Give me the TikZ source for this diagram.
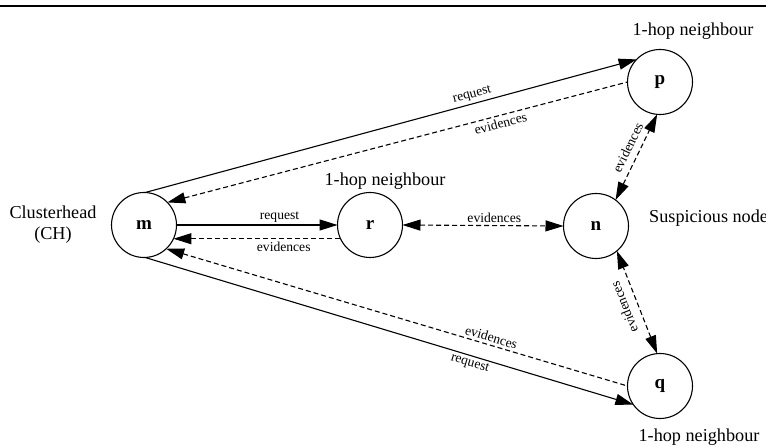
\documentclass[tikz,border=0pt]{standalone}
\usepackage{fontspec}
\setmainfont{Liberation Serif}
\usetikzlibrary{arrows.meta}

\tikzset{
  >={Triangle[length=18pt,width=11pt]},
  peer/.style={draw, circle, line width=1.1pt, minimum size=65pt, inner sep=0pt,
               outer sep=0pt, font=\fontsize{19}{21}\selectfont\bfseries},
  caption/.style={font=\fontsize{18.2}{21}\selectfont, inner sep=0pt},
  msg/.style={font=\fontsize{13.6}{15}\selectfont, inner sep=2.5pt},
  link/.style={line width=1.1pt, ->},
  evd/.style={line width=1.1pt, dash pattern=on 5pt off 3pt}
}

\begin{document}
\begin{tikzpicture}[x=1pt, y=-1pt]
  \useasboundingbox (0,0) rectangle (766,446);

  % heading rule
  \coordinate (ruleL) at (0,6);
  \coordinate (ruleR) at (766,6);
  \draw[line width=2pt] (ruleL) -- (ruleR);

  % nodes
  \node[peer] (m) at (144,225) {m};
  \node[peer] (r) at (370,225) {r};
  \node[peer] (n) at (596,226) {n};
  \node[peer] (p) at (660,82)  {p};
  \node[peer] (q) at (660,386) {q};

  % captions
  \node[caption, align=center] (ch) at (53,225) {Clusterhead\\(CH)};
  \node[caption] (hp) at (693,31)  {1-hop neighbour};
  \node[caption] (hr) at (385,181) {1-hop neighbour};
  \node[caption] (hq) at (699,437) {1-hop neighbour};
  \node[caption, anchor=west] (sus) at (649,218) {Suspicious node};

  % clusterhead <-> p
  \draw[link] (m.88) -- node[msg, sloped, above, pos=0.67] {request} (p.136);
  \draw[evd, <-] (m.44) -- node[msg, sloped, below, pos=0.72] {evidences} (p.180);

  % clusterhead <-> q
  \draw[link] (m.272) -- node[msg, sloped, below, pos=0.67] {request} (q.215);
  \draw[evd, <-] (m.313) -- node[msg, sloped, above, pos=0.70] {evidences} (q.180);

  % clusterhead <-> r
  \draw[link] (m.east) -- node[msg, above, pos=0.64] {request} (r.west);
  \draw[evd, <-] (m.335) -- node[msg, below, pos=0.66] {evidences} (r.205);

  % exchanges around the suspicious node
  \draw[evd, <->] (r.east) -- node[msg, above, pos=0.57] {evidences} (n.west);
  \draw[evd, <->] (n.53) -- node[msg, sloped, above=4pt, pos=0.55] {evidences} (p.265);
  \draw[evd, <->] (q.95) -- node[msg, sloped, above=6pt, allow upside down, pos=0.5] {evidences} (n.310);
\end{tikzpicture}
\end{document}
